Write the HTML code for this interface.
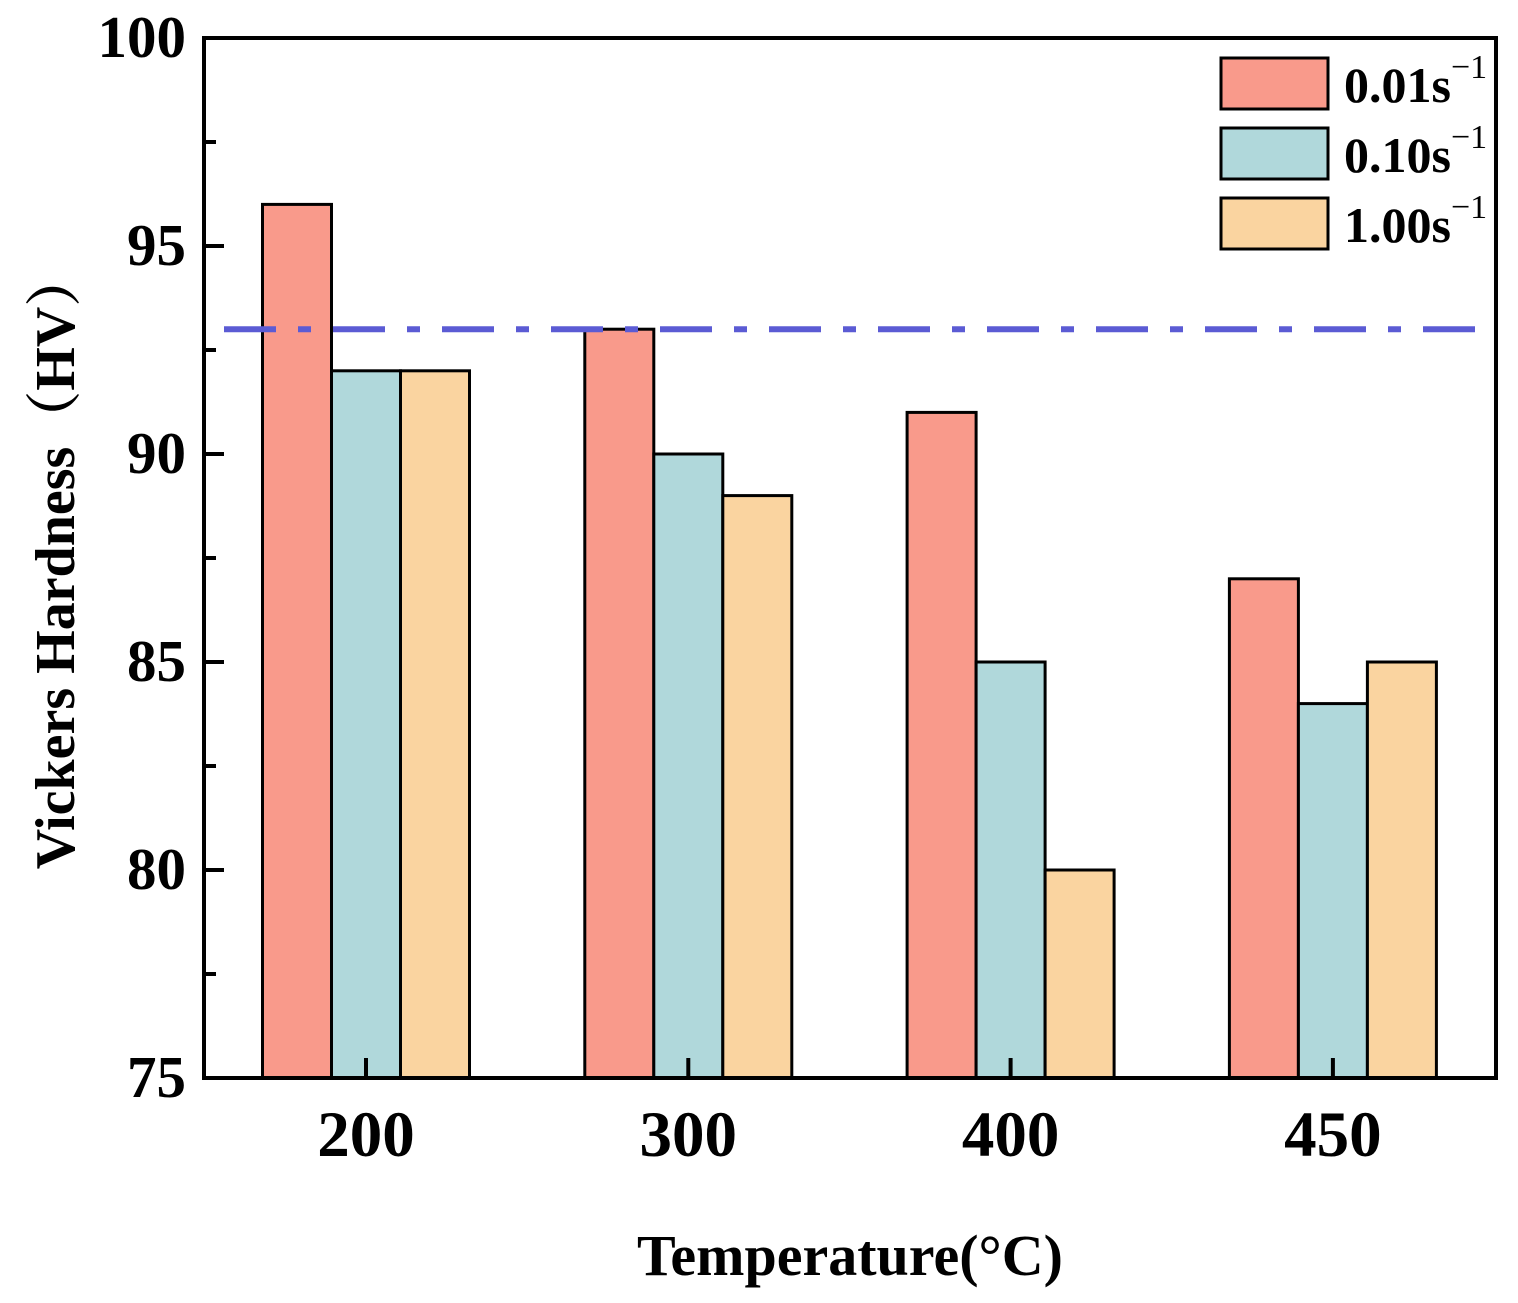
<!DOCTYPE html>
<html><head><meta charset="utf-8"><style>
html,body{margin:0;padding:0;background:#fff;}
svg{display:block;font-family:"Liberation Serif",serif;font-weight:bold;}
</style></head><body>
<svg id="chart" width="1518" height="1303" viewBox="0 0 1518 1303">
<g id="bars"></g>
<g id="axes"></g>
</svg>
<script>
const categories = ["200","300","400","450"];
const series001 = [96, 93, 91, 87];
const series010 = [92, 90, 85, 84];
const series100 = [92, 89, 80, 85];
const seriesNames = ["0.01s", "0.10s", "1.00s"];
const yTicks = [75, 80, 85, 90, 95, 100];
const refValue = 93;

const NS = "http://www.w3.org/2000/svg";
const L = 204, R = 1496, T = 38, B = 1078;
const yMin = 75, yMax = 100;
function yScale(v){ return B - (v - yMin) / (yMax - yMin) * (B - T); }
const c0 = 366, step = 322.3;
function xScale(i){ return c0 + i * step; }
const barW = 69;
const colors = ["#f99a8b", "#b0d8db", "#fad4a0"];
const allSeries = [series001, series010, series100];

function mk(tag, attrs, parent){
  const e = document.createElementNS(NS, tag);
  for (const k in attrs) e.setAttribute(k, attrs[k]);
  parent.appendChild(e);
  return e;
}
const bars = document.getElementById("bars");
const axes = document.getElementById("axes");

allSeries.forEach((s, si) => {
  s.forEach((v, i) => {
    const x = xScale(i) + (si - 1.5) * barW;
    const y = yScale(v);
    const r = mk("rect", {x: x, y: y, width: barW, height: B - y, fill: colors[si], stroke: "#000", "stroke-width": 3}, bars);
    
    
  });
});

const ref = mk("line", {x1: L, x2: R, y1: yScale(refValue), y2: yScale(refValue), stroke: "#5b5bd4", "stroke-width": 6, "stroke-dasharray": "52 22 13 22", "stroke-dashoffset": "-20"}, axes);



const frame = mk("rect", {x: L, y: T, width: R - L, height: B - T, fill: "none", stroke: "#000", "stroke-width": 4}, axes);



yTicks.forEach(v => {
  const y = yScale(v);
  mk("line", {x1: L, x2: L + 20, y1: y, y2: y, stroke: "#000", "stroke-width": 4}, axes);
  const t = mk("text", {x: L - 18, y: y + 19, "text-anchor": "end", "font-size": 59}, axes);
  t.textContent = v;
  
  
  if (v < yMax) {
    const ym = yScale(v + 2.5);
    mk("line", {x1: L, x2: L + 12, y1: ym, y2: ym, stroke: "#000", "stroke-width": 4}, axes);
  }
});

categories.forEach((c, i) => {
  const x = xScale(i);
  mk("line", {x1: x, x2: x, y1: B, y2: B - 20, stroke: "#000", "stroke-width": 4}, axes);
  const t = mk("text", {x: x, y: 1156, "text-anchor": "middle", "font-size": 65}, axes);
  t.textContent = c;
  
  
});

seriesNames.forEach((n, i) => {
  const y = 58 + i * 70;
  const r = mk("rect", {x: 1221, y: y, width: 107, height: 51, fill: colors[i], stroke: "#000", "stroke-width": 3}, axes);
  
  
  const t = mk("text", {x: 1344, y: y + 44, "font-size": 50}, axes);
  
  
  t.textContent = n;
  const sup = mk("tspan", {dy: -24, "font-size": 34, "font-weight": "normal"}, t);
  sup.textContent = "\u22121";
});

const xt = mk("text", {x: 850, y: 1275, "text-anchor": "middle", "font-size": 58}, axes);
xt.textContent = "Temperature(°C)";


const yt = mk("text", {x: 0, y: 0, "text-anchor": "middle", "font-size": 56, transform: "translate(74,560) rotate(-90)"}, axes);
yt.setAttribute('font-family', '"Liberation Serif","Noto Serif CJK SC",serif');
yt.textContent = "Vickers Hardness（HV）";


</script>
</body></html>
